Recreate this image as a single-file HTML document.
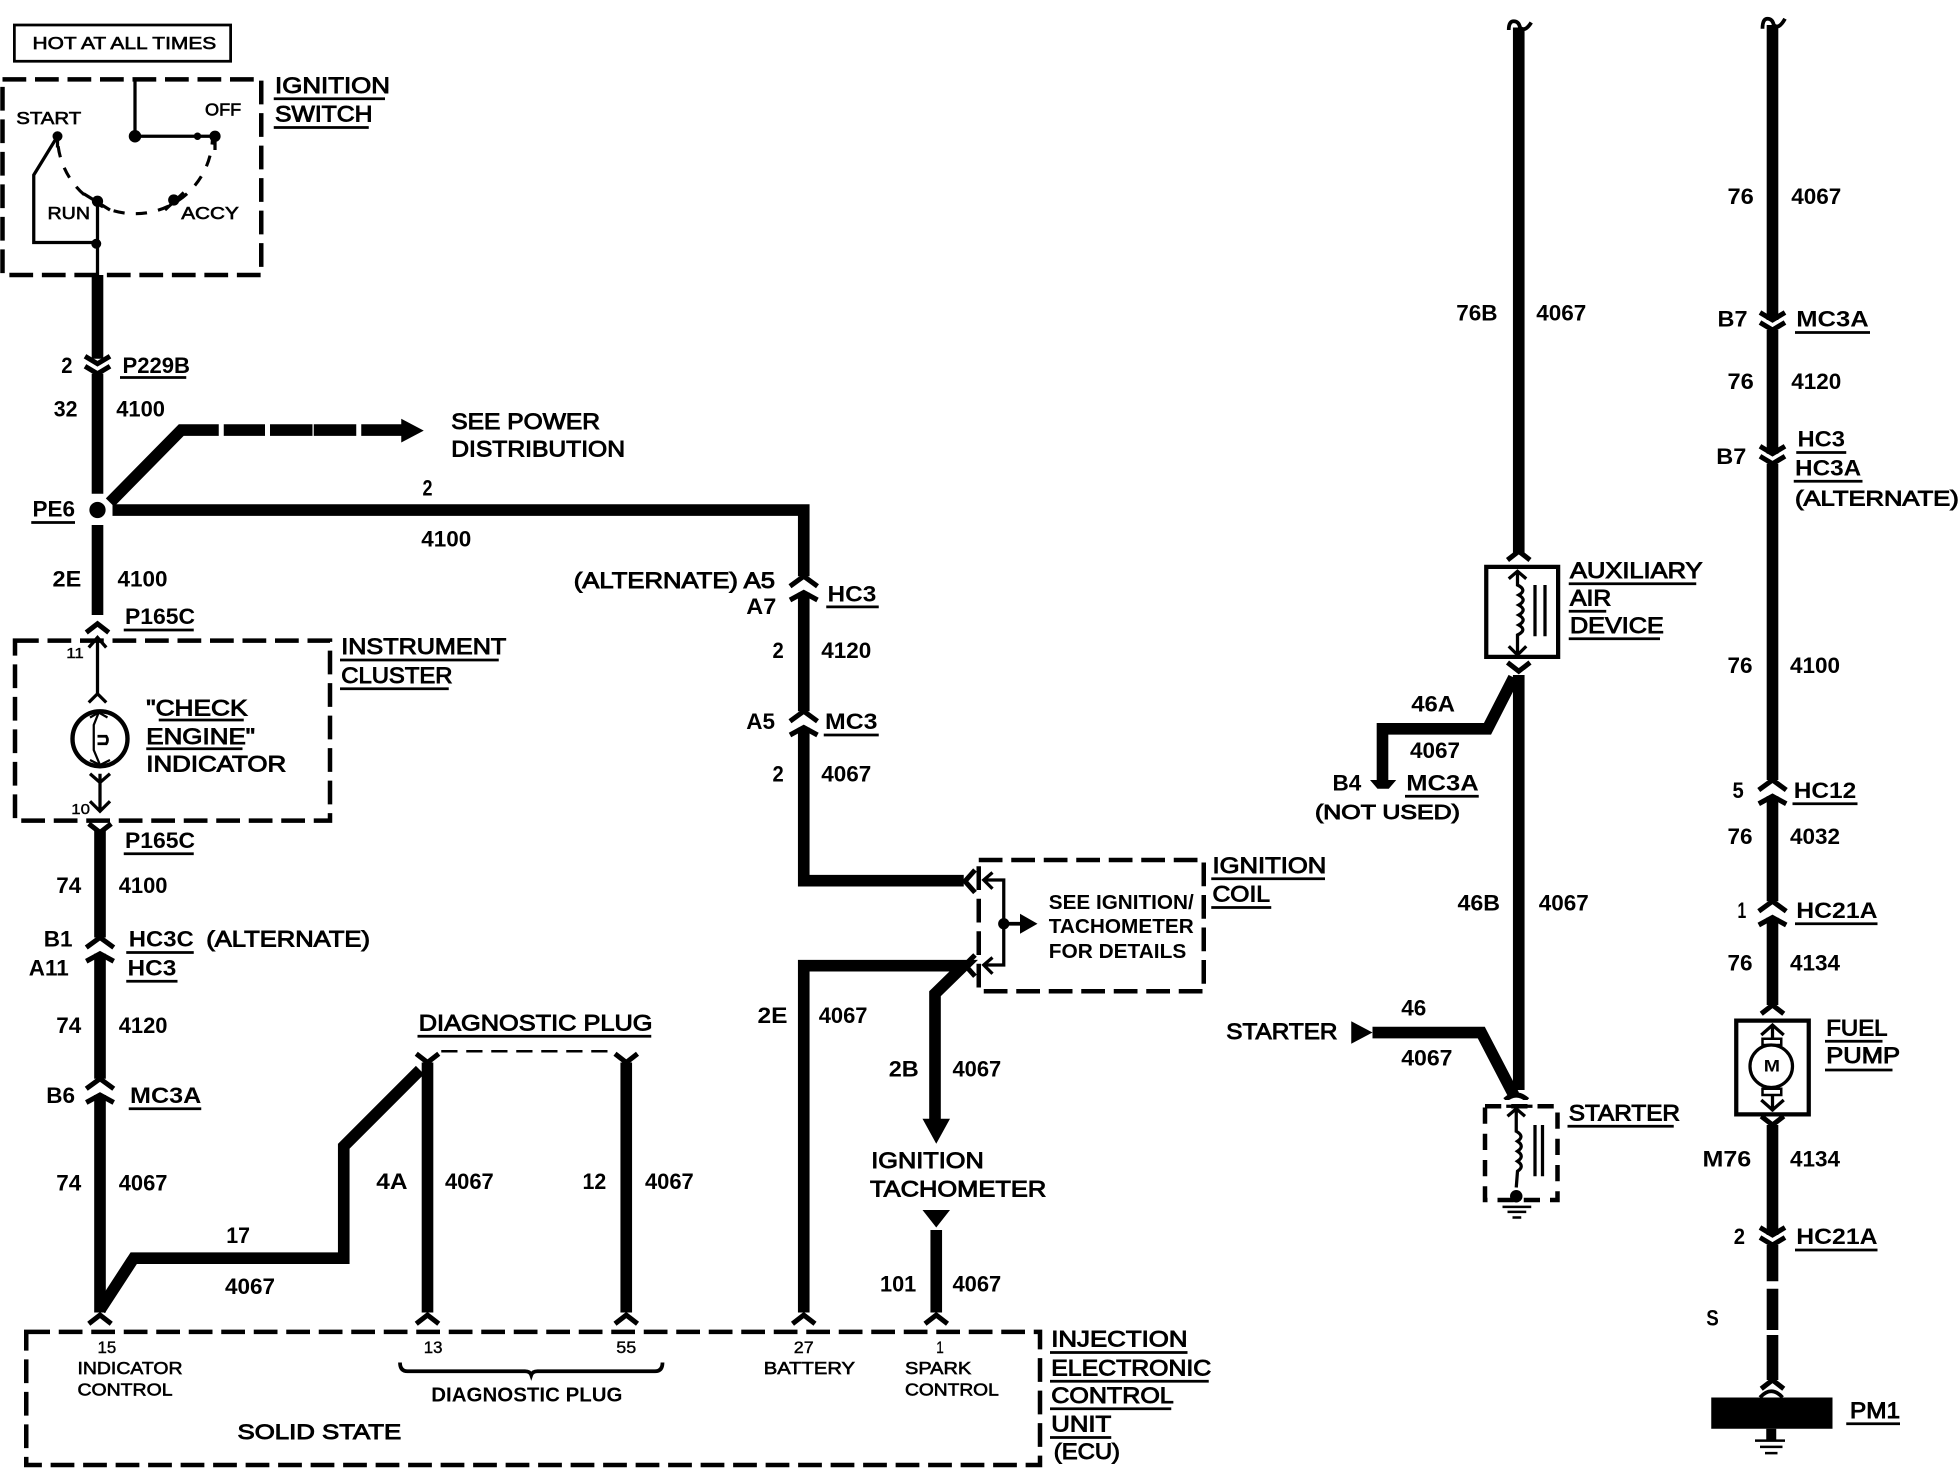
<!DOCTYPE html>
<html><head><meta charset="utf-8"><title>Wiring diagram</title>
<style>
html,body{margin:0;padding:0;background:#fff}
svg{display:block}
text{font-family:"Liberation Sans",sans-serif;fill:#000;transform:translateY(-.7px)}
.b{font-size:17.5px;font-weight:bold}
.h{font-size:18px;stroke:#000;stroke-width:.75}
.s{font-size:14px;stroke:#000;stroke-width:.5}
.m{font-size:16px;font-weight:bold}
.w{fill:none;stroke:#000;stroke-width:9.300}
.n{fill:none;stroke:#000;stroke-width:2.600}
.d{fill:none;stroke:#000;stroke-width:3.600;stroke-dasharray:19 7}
.c{fill:none;stroke:#000;stroke-width:4}
.u{stroke:#000;stroke-width:2.200}
</style></head><body>
<svg xmlns="http://www.w3.org/2000/svg" xmlns:xlink="http://www.w3.org/1999/xlink" width="1960" height="1472" viewBox="0 0 1568 1177.6">
<defs>
<path id="dd" class="c" d="M-10 -8L0 -2L10 -8M-10 0L0 6L10 0"/>
<path id="uu" class="c" d="M-11 -1L0 -9L11 -1M-11 10L0 4L11 10"/>
<path id="a" class="c" d="M-9 6L0 -1L9 6"/>
<path id="v" class="c" d="M-9 -5L0 2L9 -5"/>
</defs>

<!-- HOT AT ALL TIMES -->
<rect x="11.500" y="20" width="173" height="29" fill="none" stroke="#000" stroke-width="2.200"/>
<text class="s" lengthAdjust="spacingAndGlyphs" x="26" y="40" textLength="147">HOT AT ALL TIMES</text>

<!-- Ignition switch -->
<rect x="2" y="63.500" width="207" height="156.500" class="d"/>
<path class="n" d="M108 64V109H172M46 109L27 140V194H77M78 160V222"/>
<circle cx="108" cy="109" r="5"/><circle cx="172" cy="109" r="4.500"/><circle cx="158" cy="109" r="3"/>
<circle cx="46" cy="109" r="4"/><circle cx="77" cy="195" r="4"/><circle cx="78" cy="161" r="4.500"/><circle cx="139" cy="160" r="4.500"/>
<path d="M172 109V120M46 109V118" class="n"/>
<path d="M46 109A62 62 0 0 0 170 109" fill="none" stroke="#000" stroke-width="2.500" stroke-dasharray="9 9" stroke-dashoffset="-8"/>
<path d="M132 168L147 154" stroke="#000" stroke-width="2.500"/>
<path d="M67 155L88 168" stroke="#000" stroke-width="2.500"/>
<text class="s" lengthAdjust="spacingAndGlyphs" x="13" y="100" textLength="52">START</text>
<text class="s" lengthAdjust="spacingAndGlyphs" x="164" y="93" textLength="29">OFF</text>
<text class="s" lengthAdjust="spacingAndGlyphs" x="38" y="176" textLength="34">RUN</text>
<text class="s" lengthAdjust="spacingAndGlyphs" x="145" y="176" textLength="46">ACCY</text>
<text class="h" lengthAdjust="spacingAndGlyphs" x="220" y="75" textLength="92">IGNITION</text><line class="u" x1="219" y1="79" x2="308" y2="79"/>
<text class="h" lengthAdjust="spacingAndGlyphs" x="220" y="98" textLength="78">SWITCH</text><line class="u" x1="219" y1="102" x2="295" y2="102"/>

<!-- Left main wire -->
<path class="w" d="M78 220V287M78 299V395M78 420V492"/>
<use xlink:href="#dd" x="78" y="293"/>
<circle cx="78" cy="408" r="6.500"/>
<path class="w" d="M88 402L145 344H175M179 344H212M216 344H250M251 344H285M289 344H323"/>
<path d="M321 335L339 344.500L321 354Z"/>
<path class="w" d="M90 408H643V461M643 474V569M643 582V704.500H771"/>
<use xlink:href="#uu" x="643" y="470"/>
<use xlink:href="#uu" x="643" y="578"/>
<use xlink:href="#a" x="78" y="500"/>

<!-- Instrument cluster -->
<rect x="12" y="512.500" width="252" height="144" class="d"/>
<path class="n" d="M78 510V557M71 518L78 510L85 518M71 562L78 555L85 562M80 619V648M72 619L80 626L88 619M72 641L80 649L88 641"/>
<circle cx="80" cy="591" r="22" fill="none" stroke="#000" stroke-width="3.500"/>
<path d="M79 570L75 580V600L80 612M72 574L79 570L86 574M72 608L80 612L88 608" fill="none" stroke="#000" stroke-width="1.800"/>
<path d="M78 589H85Q87 592 85 595H78" fill="none" stroke="#000" stroke-width="2.200"/>
<text class="s" lengthAdjust="spacingAndGlyphs" x="53" y="527" textLength="14" style="font-size:12px;stroke-width:.3">11</text>
<text class="s" lengthAdjust="spacingAndGlyphs" x="57" y="652" textLength="15" style="font-size:12px;stroke-width:.3">10</text>
<path class="w" d="M80 664V750M80 763V863M80 876V1050"/>
<use xlink:href="#v" x="80" y="664"/>
<use xlink:href="#uu" x="80" y="759"/>
<use xlink:href="#uu" x="80" y="872"/>
<use xlink:href="#a" x="80" y="1053"/>

<!-- Wire labels left -->
<text class="b" lengthAdjust="spacingAndGlyphs" x="49" y="299" textLength="9">2</text>
<text class="b" lengthAdjust="spacingAndGlyphs" x="98" y="299" textLength="54">P229B</text><line class="u" x1="96" y1="302" x2="149" y2="302"/>
<text class="b" lengthAdjust="spacingAndGlyphs" x="43" y="334" textLength="19">32</text>
<text class="b" lengthAdjust="spacingAndGlyphs" x="93" y="334" textLength="39">4100</text>
<text class="b" lengthAdjust="spacingAndGlyphs" x="26" y="414" textLength="34">PE6</text><line class="u" x1="25" y1="418" x2="60" y2="418"/>
<text class="b" lengthAdjust="spacingAndGlyphs" x="42" y="470" textLength="23">2E</text>
<text class="b" lengthAdjust="spacingAndGlyphs" x="94" y="470" textLength="40">4100</text>
<text class="b" lengthAdjust="spacingAndGlyphs" x="100" y="500" textLength="56">P165C</text><line class="u" x1="99" y1="504" x2="155" y2="504"/>
<text class="h" lengthAdjust="spacingAndGlyphs" x="273" y="524" textLength="132">INSTRUMENT</text><line class="u" x1="272" y1="528" x2="399" y2="528"/>
<text class="h" lengthAdjust="spacingAndGlyphs" x="273" y="547" textLength="89">CLUSTER</text><line class="u" x1="272" y1="551" x2="359" y2="551"/>
<text class="h" lengthAdjust="spacingAndGlyphs" x="117" y="573" textLength="81">"CHECK</text><line class="u" x1="127" y1="576" x2="195" y2="576"/>
<text class="h" lengthAdjust="spacingAndGlyphs" x="117" y="596" textLength="87">ENGINE"</text><line class="u" x1="117" y1="599" x2="194" y2="599"/>
<text class="h" lengthAdjust="spacingAndGlyphs" x="117" y="618" textLength="112">INDICATOR</text>
<text class="b" lengthAdjust="spacingAndGlyphs" x="100" y="679" textLength="56">P165C</text><line class="u" x1="99" y1="683" x2="155" y2="683"/>
<text class="b" lengthAdjust="spacingAndGlyphs" x="45" y="715" textLength="20">74</text>
<text class="b" lengthAdjust="spacingAndGlyphs" x="95" y="715" textLength="39">4100</text>
<text class="b" lengthAdjust="spacingAndGlyphs" x="35" y="758" textLength="23">B1</text>
<text class="b" lengthAdjust="spacingAndGlyphs" x="103" y="758" textLength="52">HC3C</text><line class="u" x1="101" y1="762" x2="155" y2="762"/>
<text class="h" lengthAdjust="spacingAndGlyphs" x="165" y="758" textLength="131">(ALTERNATE)</text>
<text class="b" lengthAdjust="spacingAndGlyphs" x="23" y="781" textLength="32">A11</text>
<text class="b" lengthAdjust="spacingAndGlyphs" x="102" y="781" textLength="39">HC3</text><line class="u" x1="101" y1="785" x2="142" y2="785"/>
<text class="b" lengthAdjust="spacingAndGlyphs" x="45" y="827" textLength="20">74</text>
<text class="b" lengthAdjust="spacingAndGlyphs" x="95" y="827" textLength="39">4120</text>
<text class="b" lengthAdjust="spacingAndGlyphs" x="37" y="883" textLength="23">B6</text>
<text class="b" lengthAdjust="spacingAndGlyphs" x="104" y="883" textLength="57">MC3A</text><line class="u" x1="103" y1="887" x2="161" y2="887"/>
<text class="b" lengthAdjust="spacingAndGlyphs" x="45" y="953" textLength="20">74</text>
<text class="b" lengthAdjust="spacingAndGlyphs" x="95" y="953" textLength="39">4067</text>

<!-- Diagnostic plug -->
<path class="w" d="M80 1048L107 1006.500H275V917L336 856M342 850V1050M501 850V1050"/>
<path d="M353 841H489" fill="none" stroke="#000" stroke-width="2" stroke-dasharray="13 7"/>
<use xlink:href="#v" x="342" y="848"/>
<use xlink:href="#v" x="501" y="848"/>
<use xlink:href="#a" x="342" y="1053"/>
<use xlink:href="#a" x="501" y="1053"/>
<text class="h" lengthAdjust="spacingAndGlyphs" x="335" y="825" textLength="187">DIAGNOSTIC PLUG</text><line class="u" x1="334" y1="829" x2="521" y2="829"/>
<text class="b" lengthAdjust="spacingAndGlyphs" x="301" y="952" textLength="25">4A</text>
<text class="b" lengthAdjust="spacingAndGlyphs" x="356" y="952" textLength="39">4067</text>
<text class="b" lengthAdjust="spacingAndGlyphs" x="466" y="952" textLength="19">12</text>
<text class="b" lengthAdjust="spacingAndGlyphs" x="516" y="952" textLength="39">4067</text>
<text class="b" lengthAdjust="spacingAndGlyphs" x="181" y="995" textLength="19">17</text>
<text class="b" lengthAdjust="spacingAndGlyphs" x="180" y="1036" textLength="40">4067</text>

<!-- Middle labels -->
<text class="h" lengthAdjust="spacingAndGlyphs" x="361" y="344" textLength="119">SEE POWER</text>
<text class="h" lengthAdjust="spacingAndGlyphs" x="361" y="366" textLength="139">DISTRIBUTION</text>
<text class="b" lengthAdjust="spacingAndGlyphs" x="338" y="397" textLength="8">2</text>
<text class="b" lengthAdjust="spacingAndGlyphs" x="337" y="438" textLength="40">4100</text>
<text class="h" lengthAdjust="spacingAndGlyphs" x="459" y="471" textLength="161">(ALTERNATE) A5</text>
<text class="b" lengthAdjust="spacingAndGlyphs" x="597" y="492" textLength="24">A7</text>
<text class="b" lengthAdjust="spacingAndGlyphs" x="662" y="482" textLength="39">HC3</text><line class="u" x1="661" y1="485.500" x2="703" y2="485.500"/>
<text class="b" lengthAdjust="spacingAndGlyphs" x="618" y="527" textLength="9">2</text>
<text class="b" lengthAdjust="spacingAndGlyphs" x="657" y="527" textLength="40">4120</text>
<text class="b" lengthAdjust="spacingAndGlyphs" x="597" y="584" textLength="23">A5</text>
<text class="b" lengthAdjust="spacingAndGlyphs" x="660" y="584" textLength="42">MC3</text><line class="u" x1="659" y1="588" x2="703" y2="588"/>
<text class="b" lengthAdjust="spacingAndGlyphs" x="618" y="626" textLength="9">2</text>
<text class="b" lengthAdjust="spacingAndGlyphs" x="657" y="626" textLength="40">4067</text>

<!-- Ignition coil -->
<rect x="783" y="688" width="180" height="105" class="d"/>
<path class="w" d="M643 1050V772.500H771L748 795V897"/>
<path d="M738 895H760L749 915Z"/>
<path class="c" d="M780 696L772 705L780 714M780 764L772 772L780 781"/>
<path class="n" d="M787 704H803V772H787M794 698L787 704L794 711M794 766L787 772L794 779"/>
<circle cx="803" cy="739" r="4.500"/>
<path class="n" d="M803 739H816" style="stroke-width:3"/>
<path d="M816 731L830 739L816 747Z"/>
<use xlink:href="#a" x="643" y="1053"/>
<use xlink:href="#a" x="749" y="1053"/>
<text class="m" lengthAdjust="spacingAndGlyphs" x="839" y="728" textLength="116">SEE IGNITION/</text>
<text class="m" lengthAdjust="spacingAndGlyphs" x="839" y="747" textLength="116">TACHOMETER</text>
<text class="m" lengthAdjust="spacingAndGlyphs" x="839" y="767" textLength="110">FOR DETAILS</text>
<text class="h" lengthAdjust="spacingAndGlyphs" x="970" y="699" textLength="91">IGNITION</text><line class="u" x1="969" y1="703" x2="1060" y2="703"/>
<text class="h" lengthAdjust="spacingAndGlyphs" x="970" y="722" textLength="46">COIL</text><line class="u" x1="969" y1="726" x2="1017" y2="726"/>
<text class="b" lengthAdjust="spacingAndGlyphs" x="606" y="819" textLength="24">2E</text>
<text class="b" lengthAdjust="spacingAndGlyphs" x="655" y="819" textLength="39">4067</text>
<text class="b" lengthAdjust="spacingAndGlyphs" x="711" y="862" textLength="24">2B</text>
<text class="b" lengthAdjust="spacingAndGlyphs" x="762" y="862" textLength="39">4067</text>
<text class="h" lengthAdjust="spacingAndGlyphs" x="697" y="935" textLength="90">IGNITION</text>
<text class="h" lengthAdjust="spacingAndGlyphs" x="696" y="958" textLength="141">TACHOMETER</text>
<path d="M738 968H760L749 982Z"/>
<path class="w" d="M749 984V1050"/>
<text class="b" lengthAdjust="spacingAndGlyphs" x="704" y="1034" textLength="29">101</text>
<text class="b" lengthAdjust="spacingAndGlyphs" x="762" y="1034" textLength="39">4067</text>

<!-- ECU -->
<rect x="21" y="1065.500" width="811" height="106.500" class="d"/>
<text class="s" lengthAdjust="spacingAndGlyphs" x="78" y="1083" textLength="15" style="font-size:13px;stroke-width:.3">15</text>
<text class="s" lengthAdjust="spacingAndGlyphs" x="62" y="1100" textLength="84">INDICATOR</text>
<text class="s" lengthAdjust="spacingAndGlyphs" x="62" y="1117" textLength="76">CONTROL</text>
<text class="s" lengthAdjust="spacingAndGlyphs" x="339" y="1083" textLength="15" style="font-size:13px;stroke-width:.3">13</text>
<text class="s" lengthAdjust="spacingAndGlyphs" x="493" y="1083" textLength="16" style="font-size:13px;stroke-width:.3">55</text>
<text class="s" lengthAdjust="spacingAndGlyphs" x="635" y="1083" textLength="16" style="font-size:13px;stroke-width:.3">27</text>
<text class="s" lengthAdjust="spacingAndGlyphs" x="749" y="1083" textLength="6" style="font-size:13px;stroke-width:.3">1</text>
<text class="s" lengthAdjust="spacingAndGlyphs" x="611" y="1100" textLength="73">BATTERY</text>
<text class="s" lengthAdjust="spacingAndGlyphs" x="724" y="1100" textLength="53">SPARK</text>
<text class="s" lengthAdjust="spacingAndGlyphs" x="724" y="1117" textLength="75">CONTROL</text>
<path d="M320 1090Q320 1097 326 1097H420Q424 1097 425 1100Q426 1097 430 1097H524Q530 1097 530 1090" fill="none" stroke="#000" stroke-width="3"/>
<text class="m" lengthAdjust="spacingAndGlyphs" x="345" y="1122" textLength="153">DIAGNOSTIC PLUG</text>
<text class="h" lengthAdjust="spacingAndGlyphs" x="190" y="1152" textLength="131" style="font-size:17px">SOLID STATE</text>
<text class="h" lengthAdjust="spacingAndGlyphs" x="841" y="1078" textLength="109">INJECTION</text><line class="u" x1="840" y1="1082" x2="950" y2="1082"/>
<text class="h" lengthAdjust="spacingAndGlyphs" x="841" y="1101" textLength="128">ELECTRONIC</text><line class="u" x1="840" y1="1105" x2="967" y2="1105"/>
<text class="h" lengthAdjust="spacingAndGlyphs" x="841" y="1123" textLength="98">CONTROL</text><line class="u" x1="840" y1="1127" x2="937" y2="1127"/>
<text class="h" lengthAdjust="spacingAndGlyphs" x="841" y="1146" textLength="48">UNIT</text><line class="u" x1="840" y1="1150" x2="889" y2="1150"/>
<text class="h" lengthAdjust="spacingAndGlyphs" x="843" y="1168" textLength="53">(ECU)</text>

<!-- Auxiliary air device column -->
<path d="M1207 24Q1207 17 1211 17Q1215 17 1216 22Q1220 26 1225 18" fill="none" stroke="#000" stroke-width="3"/>
<path class="w" d="M1215 22V443M1215 540V872"/>
<use xlink:href="#a" x="1215" y="442"/>
<use xlink:href="#v" x="1215" y="535"/>
<rect x="1189" y="453.500" width="57.500" height="72" fill="none" stroke="#000" stroke-width="3.400"/>
<path class="n" d="M1214 458V468Q1222 472 1215 476Q1222 480 1215 484Q1222 488 1215 492Q1222 496 1215 500Q1222 504 1214 508V523M1207 463L1214 457L1221 463M1207 517L1214 524L1221 517"/>
<path class="n" d="M1228 468V509M1236 468V509"/>
<path class="w" d="M1211 542L1190 583H1106V624"/>
<path d="M1096 624H1117L1111 631H1102Z"/>
<text class="b" lengthAdjust="spacingAndGlyphs" x="1129" y="570" textLength="35">46A</text>
<text class="b" lengthAdjust="spacingAndGlyphs" x="1128" y="607" textLength="40">4067</text>
<text class="b" lengthAdjust="spacingAndGlyphs" x="1066" y="633" textLength="23">B4</text>
<text class="b" lengthAdjust="spacingAndGlyphs" x="1125" y="633" textLength="58">MC3A</text><line class="u" x1="1124" y1="637" x2="1183" y2="637"/>
<text class="h" lengthAdjust="spacingAndGlyphs" x="1052" y="656" textLength="116" style="font-size:16px">(NOT USED)</text>
<text class="b" lengthAdjust="spacingAndGlyphs" x="1165" y="257" textLength="33">76B</text>
<text class="b" lengthAdjust="spacingAndGlyphs" x="1229" y="257" textLength="40">4067</text>
<text class="b" lengthAdjust="spacingAndGlyphs" x="1166" y="729" textLength="34">46B</text>
<text class="b" lengthAdjust="spacingAndGlyphs" x="1231" y="729" textLength="40">4067</text>
<text class="h" lengthAdjust="spacingAndGlyphs" x="1256" y="463" textLength="106">AUXILIARY</text><line class="u" x1="1255" y1="467" x2="1357" y2="467"/>
<text class="h" lengthAdjust="spacingAndGlyphs" x="1256" y="485" textLength="33">AIR</text><line class="u" x1="1255" y1="489" x2="1285" y2="489"/>
<text class="h" lengthAdjust="spacingAndGlyphs" x="1256" y="507" textLength="75">DEVICE</text><line class="u" x1="1255" y1="511" x2="1328" y2="511"/>

<!-- Starter -->
<path d="M1081 817V835L1098 826Z"/>
<path class="w" d="M1098 826H1185L1211 876"/>
<text class="h" lengthAdjust="spacingAndGlyphs" x="981" y="832" textLength="89">STARTER</text>
<text class="b" lengthAdjust="spacingAndGlyphs" x="1121" y="813" textLength="20">46</text>
<text class="b" lengthAdjust="spacingAndGlyphs" x="1121" y="853" textLength="41">4067</text>
<path class="c" d="M1204 880Q1213 872 1222 880"/>
<rect x="1188" y="885" width="58" height="75" class="d" style="stroke-dasharray:13 8"/>
<rect x="1202" y="880" width="30" height="3" fill="#fff"/>
<path class="n" d="M1213 888V905Q1220 909 1214 913Q1220 917 1214 921Q1220 925 1214 929Q1220 933 1214 937L1213 950M1205 885H1226M1206 893L1213 887L1220 893"/>
<path class="n" d="M1228 900V941M1234 900V941" />
<circle cx="1213" cy="957" r="5"/>
<path d="M1202 965.500H1225M1206 969.500H1221M1210 974H1217" stroke="#000" stroke-width="2" fill="none"/>
<text class="h" lengthAdjust="spacingAndGlyphs" x="1255" y="897" textLength="89">STARTER</text><line class="u" x1="1254" y1="901" x2="1339" y2="901"/>

<!-- Right column -->
<path d="M1410 23Q1410 15 1414 15Q1418 15 1419 20Q1423 24 1428 15" fill="none" stroke="#000" stroke-width="3"/>
<path class="w" d="M1418 20V256M1418 264V363M1418 371V624M1418 637V721M1418 734V804M1418 900V988M1418 996V1025M1418 1031V1064M1418 1068V1104"/>
<use xlink:href="#dd" x="1418" y="258"/>
<use xlink:href="#dd" x="1418" y="365"/>
<use xlink:href="#uu" x="1418" y="633"/>
<use xlink:href="#uu" x="1418" y="730"/>
<use xlink:href="#dd" x="1418" y="990"/>
<use xlink:href="#a" x="1418" y="805"/>
<use xlink:href="#v" x="1418" y="898"/>
<rect x="1389" y="816.500" width="58" height="75" fill="none" stroke="#000" stroke-width="3.400"/>
<path class="n" d="M1418 820V831M1409 828L1418 820L1427 828M1418 876V889M1409 880L1418 888L1427 880"/>
<circle cx="1417" cy="853" r="17" fill="none" stroke="#000" stroke-width="2.600"/>
<rect x="1410" y="831" width="15" height="5" fill="none" stroke="#000" stroke-width="2"/>
<rect x="1410" y="871" width="15" height="5" fill="none" stroke="#000" stroke-width="2"/>
<text class="m" lengthAdjust="spacingAndGlyphs" x="1411" y="858" textLength="13" style="font-size:13px">M</text>
<text class="b" lengthAdjust="spacingAndGlyphs" x="1382" y="164" textLength="21">76</text>
<text class="b" lengthAdjust="spacingAndGlyphs" x="1433" y="164" textLength="40">4067</text>
<text class="b" lengthAdjust="spacingAndGlyphs" x="1374" y="262" textLength="24">B7</text>
<text class="b" lengthAdjust="spacingAndGlyphs" x="1437" y="262" textLength="58">MC3A</text><line class="u" x1="1436" y1="266" x2="1496" y2="266"/>
<text class="b" lengthAdjust="spacingAndGlyphs" x="1382" y="312" textLength="21">76</text>
<text class="b" lengthAdjust="spacingAndGlyphs" x="1433" y="312" textLength="40">4120</text>
<text class="b" lengthAdjust="spacingAndGlyphs" x="1373" y="372" textLength="24">B7</text>
<text class="b" lengthAdjust="spacingAndGlyphs" x="1438" y="358" textLength="38">HC3</text><line class="u" x1="1437" y1="362" x2="1477" y2="362"/>
<text class="b" lengthAdjust="spacingAndGlyphs" x="1436" y="381" textLength="53">HC3A</text><line class="u" x1="1435" y1="385" x2="1490" y2="385"/>
<text class="h" lengthAdjust="spacingAndGlyphs" x="1436" y="405" textLength="131" style="font-size:17px">(ALTERNATE)</text>
<text class="b" lengthAdjust="spacingAndGlyphs" x="1382" y="539" textLength="20">76</text>
<text class="b" lengthAdjust="spacingAndGlyphs" x="1432" y="539" textLength="40">4100</text>
<text class="b" lengthAdjust="spacingAndGlyphs" x="1386" y="639" textLength="9">5</text>
<text class="b" lengthAdjust="spacingAndGlyphs" x="1435" y="639" textLength="50">HC12</text><line class="u" x1="1434" y1="643" x2="1486" y2="643"/>
<text class="b" lengthAdjust="spacingAndGlyphs" x="1382" y="676" textLength="20">76</text>
<text class="b" lengthAdjust="spacingAndGlyphs" x="1432" y="676" textLength="40">4032</text>
<text class="b" lengthAdjust="spacingAndGlyphs" x="1390" y="735" textLength="7">1</text>
<text class="b" lengthAdjust="spacingAndGlyphs" x="1437" y="735" textLength="65">HC21A</text><line class="u" x1="1436" y1="739" x2="1502" y2="739"/>
<text class="b" lengthAdjust="spacingAndGlyphs" x="1382" y="777" textLength="20">76</text>
<text class="b" lengthAdjust="spacingAndGlyphs" x="1432" y="777" textLength="40">4134</text>
<text class="h" lengthAdjust="spacingAndGlyphs" x="1461" y="829" textLength="49">FUEL</text><line class="u" x1="1460" y1="833" x2="1506" y2="833"/>
<text class="h" lengthAdjust="spacingAndGlyphs" x="1461" y="851" textLength="59">PUMP</text><line class="u" x1="1460" y1="856" x2="1514" y2="856"/>
<text class="b" lengthAdjust="spacingAndGlyphs" x="1362" y="934" textLength="39">M76</text>
<text class="b" lengthAdjust="spacingAndGlyphs" x="1432" y="934" textLength="40">4134</text>
<text class="b" lengthAdjust="spacingAndGlyphs" x="1387" y="996" textLength="9">2</text>
<text class="b" lengthAdjust="spacingAndGlyphs" x="1437" y="996" textLength="65">HC21A</text><line class="u" x1="1436" y1="1000" x2="1502" y2="1000"/>
<text class="b" lengthAdjust="spacingAndGlyphs" x="1365" y="1061" textLength="10">S</text>
<use xlink:href="#a" x="1418" y="1105"/>
<rect x="1369" y="1118" width="97" height="25"/>
<path class="c" d="M1408 1118Q1417 1108 1426 1118" style="stroke-width:3"/>
<path d="M1417 1143V1152" stroke="#000" stroke-width="8" fill="none"/>
<path d="M1404 1152.500H1428M1408 1157.500H1426M1412 1162.500H1422" stroke="#000" stroke-width="2" fill="none"/>
<text class="h" lengthAdjust="spacingAndGlyphs" x="1480" y="1135" textLength="40">PM1</text><line class="u" x1="1477" y1="1139" x2="1520" y2="1139"/>
</svg>
</body></html>
